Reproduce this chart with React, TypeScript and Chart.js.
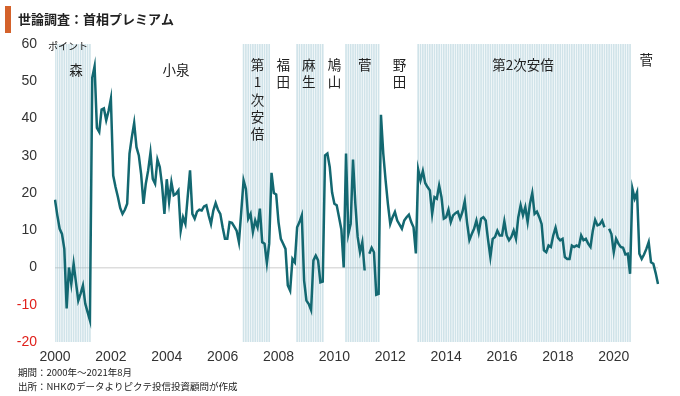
import React, { useEffect, useRef } from 'react';
import { Chart, registerables } from 'chart.js';

Chart.register(...registerables);

// ---- Data (monthly "prime minister premium", points) ----
const v2000 = [18.2, 14, 10.4, 9, 5, -11, 0, -4.4, 1, -4, -8.9, -7];
const v2001 = [-4.8, -9.7, -12, -14.2, 51, 54, 37.5, 36.4, 42.4, 42.7, 39.5, 42];
const v2002 = [45.3, 24.7, 21.6, 19, 16, 14.4, 15.5, 17.1, 30.6, 35, 38.8, 32.3];
const v2003 = [30.1, 25, 17.1, 22.5, 26, 30.8, 23.8, 22.5, 29, 27, 22, 14.4];
const v2004 = [23.7, 17.6, 22.9, 19.4, 19.8, 20.7, 9.9, 13.5, 11.7, 19, 26.1, 14.4];
const v2005 = [13.1, 15, 15.5, 15.3, 16.4, 16.7, 14, 11.7, 15.3, 17.3, 15.5, 14.4];
const v2006 = [10.8, 7.7, 7.7, 12.2, 12, 11, 9.9, 6.8, 15, 23.4, 21.1, 13.1];
const v2007 = [14.4, 9.5, 12.6, 10.8, 15.8, 6.8, 6.4, 1.2, 6.4, 25.4, 20, 19.6];
const v2008 = [12.2, 7.7, 6.4, 5, -4.8, -6.2, 2.3, 1.4, 10.8, 12.2, 14, -3.5];
const v2009 = [-8.9, -9.8, -11.4, 1.9, 3.2, 1.9, -4, -3.8, 30.1, 30.6, 27, 20.2];
const v2010 = [17.1, 16.7, 13.5, 10.2, 0, 30.6, 9, 11.7, 29, 17.1, 8.2, 4.1];
const v2011 = [6.8, -0.8, null, 3.7, 5.3, 4.1, -7.3, -7.1, 41, 30.6, 23.4, 17];
const v2012 = [11.7, 13.5, 14.9, 12.6, 11.5, 10.4, 12.6, 13.5, 14.2, 12.2, 10.8, 3.8];
const v2013 = [26.3, 23.4, 25.9, 22.7, 21.6, 20.7, 14.4, 18.9, 18.5, 22, 18.9, 13.1];
const v2014 = [13.5, 15.5, 12.2, 14, 14.6, 15, 13.1, 14.9, 17.8, 12, 7.4, 9];
const v2015 = [10.4, 12.6, 9.5, 13.1, 13.5, 12.6, 7.5, 2.8, 7.7, 8.2, 9.9, 8.6];
const v2016 = [8.6, 12.4, 8.6, 7.3, 8.2, 9.9, 7.7, 13.5, 16.7, 14, 16.2, 12.2];
const v2017 = [17.1, 20, 14.4, 15, 13.5, 11.7, 4.6, 4.1, 5.9, 5.5, 8.6, 10.7];
const v2018 = [8, 7.3, 7.7, 2.8, 2.3, 2.3, 5.9, 5.5, 5.9, 5.6, 8.6, 7.3];
const v2019 = [7.7, 6.4, 5.5, 9.9, 12.8, 11.3, 11.6, 12.6, 10.8, null, 10.4, 9];
const v2020 = [4.1, 7.7, 6.4, 5.5, 5.3, 3.5, 3.7, -1.7, 21.2, 18.5, 20.2, 3.7];
const v2021 = [2.3, 3.5, 5, 6.8, 1.4, 1, -1.5, -4.4];

const yearlyValues: (number | null)[][] = [
  v2000, v2001, v2002, v2003, v2004, v2005, v2006, v2007, v2008, v2009, v2010,
  v2011, v2012, v2013, v2014, v2015, v2016, v2017, v2018, v2019, v2020, v2021,
];
const firstYear = 2000;

// Shaded administrations (first and last month)
const shadedPeriods: [string, string][] = [
  ['2000-01', '2001-04'], // 森
  ['2006-10', '2007-09'], // 第1次安倍
  ['2008-09', '2009-08'], // 麻生
  ['2010-06', '2011-08'], // 菅
  ['2013-01', '2020-08'], // 第2次安倍
];

// Prime minister name labels: text, anchor month, vertical?
const pmNames = [
  { text: '森', month: '2000-10', vertical: false, row: 1 },
  { text: '小泉', month: '2004-05', vertical: false, row: 1 },
  { text: '第1次安倍', month: '2007-04', vertical: true, row: 0 },
  { text: '福田', month: '2008-03', vertical: true, row: 0 },
  { text: '麻生', month: '2009-02', vertical: true, row: 0 },
  { text: '鳩山', month: '2010-01', vertical: true, row: 0 },
  { text: '菅', month: '2011-02', vertical: true, row: 0 },
  { text: '野田', month: '2012-05', vertical: true, row: 0 },
  { text: '第2次安倍', month: '2016-10', vertical: false, row: 0 },
  { text: '菅', month: '2021-03', vertical: false, row: -1 },
];

const yTicks = [-20, -10, 0, 10, 20, 30, 40, 50, 60];
const TITLE = '世論調査：首相プレミアム';
const UNIT = 'ポイント';
const NOTE1 = '期間：2000年～2021年8月';
const NOTE2 = '出所：NHKのデータよりピクテ投信投資顧問が作成';

// ---- derived ----
const monthLabels: string[] = [];
const premium: (number | null)[] = [];
yearlyValues.forEach((arr, yi) => {
  arr.forEach((v, mi) => {
    monthLabels.push(`${firstYear + yi}-${String(mi + 1).padStart(2, '0')}`);
    premium.push(v);
  });
});
const shadeData = monthLabels.map((lab) => {
  const inside = shadedPeriods.some(([a, b]) => lab >= a && lab <= b);
  return inside ? [-20, 60] : null;
});

const CJK = '"Noto Sans CJK JP", "Noto Sans", sans-serif';
const LAT = '"Liberation Sans", Arial, sans-serif';

const decorPlugin = {
  id: 'decor',
  afterDraw(chart: any) {
    const { ctx, chartArea, scales } = chart;
    const xs = scales.x;
    ctx.save();
    // title
    ctx.fillStyle = '#d4622b';
    ctx.fillRect(5, 6, 6, 27);
    ctx.fillStyle = '#222';
    ctx.textBaseline = 'middle';
    ctx.textAlign = 'left';
    ctx.font = `bold 13px ${CJK}`;
    ctx.fillText(TITLE, 18, 19);
    // unit
    ctx.font = `10px ${CJK}`;
    ctx.fillStyle = '#222';
    ctx.fillText(UNIT, 48, 46);
    // pm labels
    ctx.font = `13.5px ${CJK}`;
    ctx.textAlign = 'center';
    ctx.fillStyle = '#222';
    pmNames.forEach((p) => {
      const idx = monthLabels.indexOf(p.month);
      const x = xs.getPixelForValue(idx);
      const y0 = chartArea.top + 21 + p.row * 5;
      if (p.vertical) {
        Array.from(p.text).forEach((ch, i) => {
          ctx.fillText(ch, x, y0 + i * 17.3);
        });
      } else {
        ctx.fillText(p.text, x, y0);
      }
    });
    // notes
    ctx.textAlign = 'left';
    ctx.font = `9.5px ${CJK}`;
    ctx.fillStyle = '#222';
    ctx.fillText(NOTE1, 18, 372);
    ctx.fillText(NOTE2, 18, 386);
    ctx.restore();
  },
};

function PremiumChart() {
  const ref = useRef<HTMLCanvasElement | null>(null);
  useEffect(() => {
    if (!ref.current) return;
    const chart = new Chart(ref.current, {
      type: 'line',
      data: {
        labels: monthLabels,
        datasets: [
          {
            type: 'line',
            data: premium,
            borderColor: '#136871',
            borderWidth: 2.5,
            pointRadius: 0,
            tension: 0,
            spanGaps: false,
            order: 0,
          } as any,
          {
            type: 'bar',
            data: shadeData,
            backgroundColor: 'rgba(150,192,206,0.45)',
            barThickness: 1,
            borderWidth: 0,
            order: 1,
          } as any,
        ],
      },
      options: {
        animation: false,
        responsive: false,
        events: [],
        layout: { padding: { top: 44, right: 22, bottom: 24, left: 0 } },
        plugins: { legend: { display: false }, tooltip: { enabled: false } },
        scales: {
          x: {
            type: 'category',
            offset: false,
            grid: { display: false, drawTicks: false },
            border: { display: false },
            afterFit: (s: any) => { s.height = 30; },
            ticks: {
              autoSkip: false,
              maxRotation: 0,
              padding: 7,
              color: '#333',
              font: { family: LAT, size: 14 },
              callback: (_v: any, i: number) => (i % 24 === 0 ? monthLabels[i].slice(0, 4) : null),
            },
          },
          y: {
            min: -20,
            max: 60,
            afterFit: (s: any) => { s.width = 55; },
            afterBuildTicks: (s: any) => { s.ticks = yTicks.map((v) => ({ value: v })); },
            grid: {
              drawTicks: false,
              color: (c: any) => (c.tick && c.tick.value === 0 ? '#dddddd' : 'rgba(0,0,0,0)'),
              lineWidth: 1.5,
            },
            border: { display: false },
            ticks: {
              padding: 18,
              color: (c: any) => (c.tick && c.tick.value < 0 ? '#e0201b' : '#333'),
              font: { family: LAT, size: 14 },
            },
          },
        },
      },
      plugins: [decorPlugin],
    });
    return () => chart.destroy();
  }, []);
  return <canvas ref={ref} width={680} height={396} style={{ display: 'block' }} />;
}

export default function App() {
  return (
    <div style={{ position: 'fixed', left: 0, top: 0, width: 680, height: 396, background: '#fff' }}>
      <PremiumChart />
    </div>
  );
}
